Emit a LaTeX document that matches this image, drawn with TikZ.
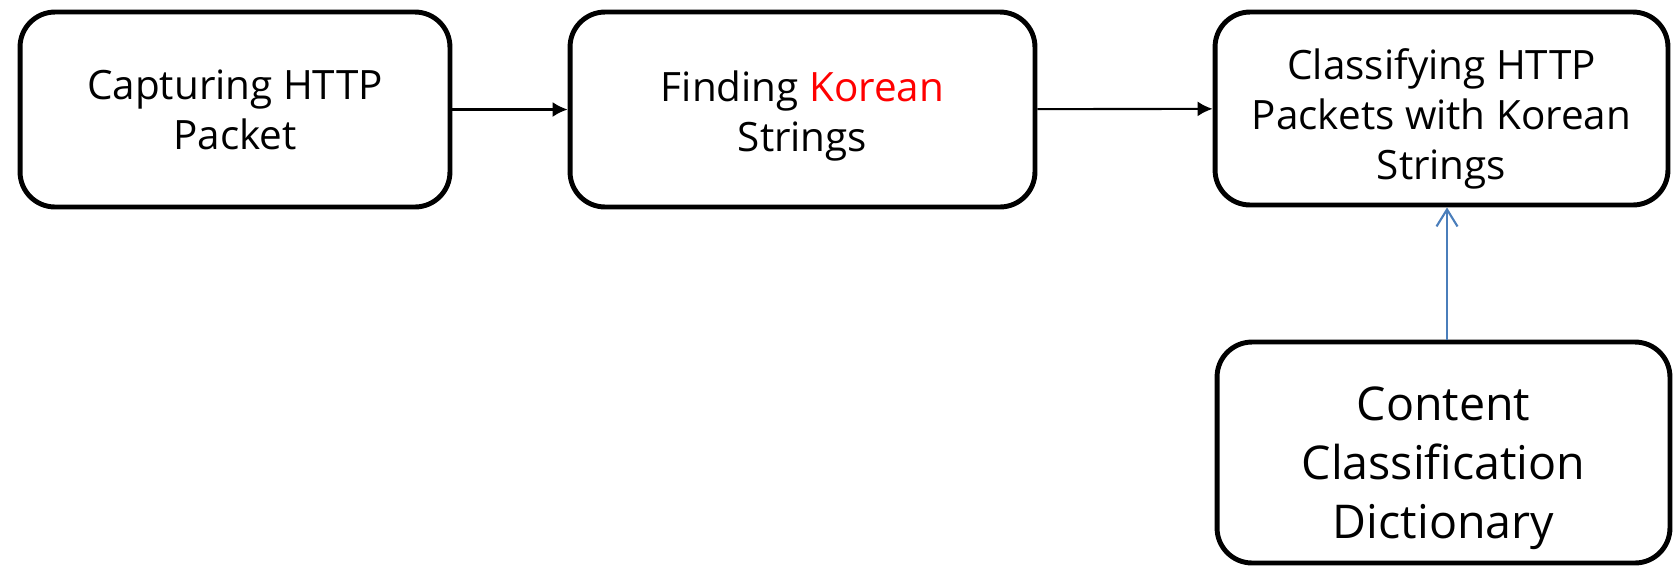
\documentclass[tikz,border=0pt]{standalone}
\usepackage{fontspec}
\setmainfont{Open Sans}
\usepackage{tikz}
\usetikzlibrary{arrows.meta,backgrounds}
\definecolor{linkblue}{RGB}{74,126,187}
\definecolor{keyred}{RGB}{255,0,0}

\begin{document}
\begin{tikzpicture}[x=0.02cm,y=-0.02cm,
  stage/.style={draw,line width=2.8pt,rounded corners=0.7cm,align=center,inner sep=0pt,
    font=\fontsize{23}{28.5}\selectfont},
  flow/.style={line width=1.2pt,-{Latex[length=0.3cm,width=0.3cm]}},
  lookup/.style={linkblue,line width=1.2pt,-{Straight Barb[length=0.34cm,width=0.42cm]}}]
\useasboundingbox (0,0) rectangle (1673,566);
\node[stage,minimum width=8.6cm,minimum height=3.9cm] (capture) at (235,109.5) {Capturing HTTP\\Packet};
\node[stage,minimum width=9.3cm,minimum height=3.9cm] (find) at (802.5,109.5) {\rule{0pt}{1.1em}Finding \textcolor{keyred}{Korean}\\Strings};
\node[stage,minimum width=9.06cm,minimum height=3.86cm] (classify) at (1441.5,108.5) {\rule{0pt}{1.3em}Classifying HTTP\\Packets with Korean\\Strings};
\node[stage,minimum width=9.06cm,minimum height=4.42cm,font=\fontsize{26.5}{33.5}\selectfont] (dict) at (1443.5,452.5) {\rule{0pt}{1.4em}Content\\Classification\\Dictionary};
\coordinate (lookupx) at (1447,0);
\draw[flow] (capture) -- (find);
\draw[flow] (find) -- (classify);
\draw[lookup] (dict.north -| lookupx) -- (classify.south -| lookupx);
\end{tikzpicture}
\end{document}
